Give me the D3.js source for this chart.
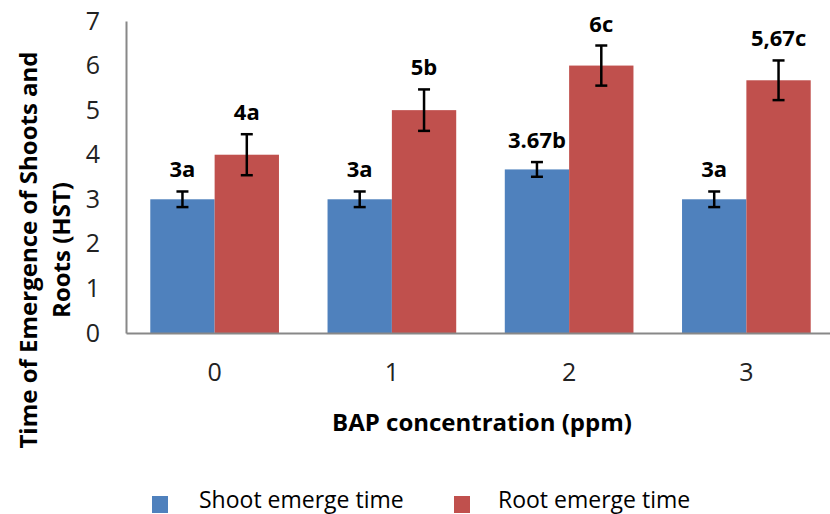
<!DOCTYPE html>
<html>
<head>
<meta charset="utf-8">
<script src="https://cdn.jsdelivr.net/npm/d3@7/dist/d3.min.js"></script>
<style>
  html, body { margin: 0; padding: 0; background: #fff; }
  svg { display: block; font-family: "Open Sans", sans-serif; }
</style>
</head>
<body>
<svg width="830" height="514"></svg>
<script>
// chart data
const categories = ['0', '1', '2', '3'];
const seriesNames = ['Shoot emerge time', 'Root emerge time'];
const shootValues = [3, 3, 3.67, 3];
const rootValues = [4, 5, 6, 5.67];
const shootErrors = [0.175, 0.175, 0.165, 0.175];
const rootErrors = [0.46, 0.465, 0.45, 0.445];
const shootLabels = ['3a', '3a', '3.67b', '3a'];
const rootLabels = ['4a', '5b', '6c', '5,67c'];
const yTicks = [0, 1, 2, 3, 4, 5, 6, 7];

const colors = ['#4f81bd', '#c0504d'];

const svg = d3.select('svg');

const plotLeft = 126, plotRight = 835, plotTop = 21, plotBottom = 333;

const x = d3.scaleBand()
  .domain(categories)
  .range([plotLeft, plotRight])
  .paddingInner(0.274)
  .paddingOuter(0.137);

const xs = d3.scaleBand()
  .domain([0, 1])
  .range([0, x.bandwidth()]);

const y = d3.scaleLinear()
  .domain([0, 7])
  .range([plotBottom, plotTop]);

const rows = categories.map((c, i) => [
  { cat: c, s: 0, value: shootValues[i], err: shootErrors[i], label: shootLabels[i] },
  { cat: c, s: 1, value: rootValues[i], err: rootErrors[i], label: rootLabels[i] }
]).flat();

// bars
svg.append('g')
  .selectAll('rect')
  .data(rows)
  .enter()
  .append('rect')
  .attr('x', d => x(d.cat) + xs(d.s))
  .attr('y', d => y(d.value))
  .attr('width', xs.bandwidth())
  .attr('height', d => y(0) - y(d.value))
  .attr('fill', d => colors[d.s]);

// error bars
const eb = svg.append('g')
  .attr('stroke', '#000')
  .attr('stroke-width', 2.5);

rows.forEach(d => {
  const cx = x(d.cat) + xs(d.s) + xs.bandwidth() / 2;
  const y1 = y(d.value + d.err), y2 = y(d.value - d.err);
  eb.append('line').attr('x1', cx).attr('x2', cx).attr('y1', y1).attr('y2', y2);
  eb.append('line').attr('x1', cx - 6).attr('x2', cx + 6).attr('y1', y1).attr('y2', y1);
  eb.append('line').attr('x1', cx - 6).attr('x2', cx + 6).attr('y1', y2).attr('y2', y2);
});

// data labels
svg.append('g')
  .selectAll('text')
  .data(rows)
  .enter()
  .append('text')
  .attr('x', d => x(d.cat) + xs(d.s) + xs.bandwidth() / 2)
  .attr('y', d => y(d.value + d.err) - 14)
  .attr('text-anchor', 'middle')
  .attr('font-weight', 'bold')
  .attr('font-size', 22)
  .attr('fill', '#000')
  .text(d => d.label);

// axes
const yAxis = svg.append('g')
  .attr('transform', `translate(${plotLeft},0)`)
  .call(d3.axisLeft(y).tickValues(yTicks).tickSize(0).tickPadding(26).tickFormat(d3.format('d')));
yAxis.select('.domain').attr('stroke', '#888').attr('stroke-width', 2);
yAxis.selectAll('text').attr('font-size', 25).attr('font-family', 'Open Sans').attr('fill', '#222');

const xAxis = svg.append('g')
  .attr('transform', `translate(0,${plotBottom})`)
  .call(d3.axisBottom(x).tickSize(0).tickPadding(30));
xAxis.select('.domain').attr('stroke', '#888').attr('stroke-width', 2);
xAxis.selectAll('text').attr('font-size', 25).attr('font-family', 'Open Sans').attr('fill', '#222');

// axis titles
svg.append('text')
  .attr('x', 482)
  .attr('y', 431)
  .attr('text-anchor', 'middle')
  .attr('font-weight', 'bold')
  .attr('font-size', 24)
  .text('BAP concentration (ppm)');

const yTitle = svg.append('text')
  .attr('transform', 'translate(37,250) rotate(-90)')
  .attr('text-anchor', 'middle')
  .attr('font-weight', 'bold')
  .attr('font-size', 24);
yTitle.append('tspan').attr('x', 0).attr('y', 0).text('Time of Emergence of Shoots and');
yTitle.append('tspan').attr('x', 0).attr('y', 33).text('Roots (HST)');

// legend
const legendX = [152, 454];
const legendTextX = [199, 498];
const legend = svg.append('g');
seriesNames.forEach((name, i) => {
  legend.append('rect')
    .attr('x', legendX[i])
    .attr('y', 496)
    .attr('width', 16)
    .attr('height', 17)
    .attr('fill', colors[i]);
  legend.append('text')
    .attr('x', legendTextX[i])
    .attr('y', 508)
    .attr('font-size', 23)
    .attr('fill', '#000')
    .text(name);
});
</script>
</body>
</html>
